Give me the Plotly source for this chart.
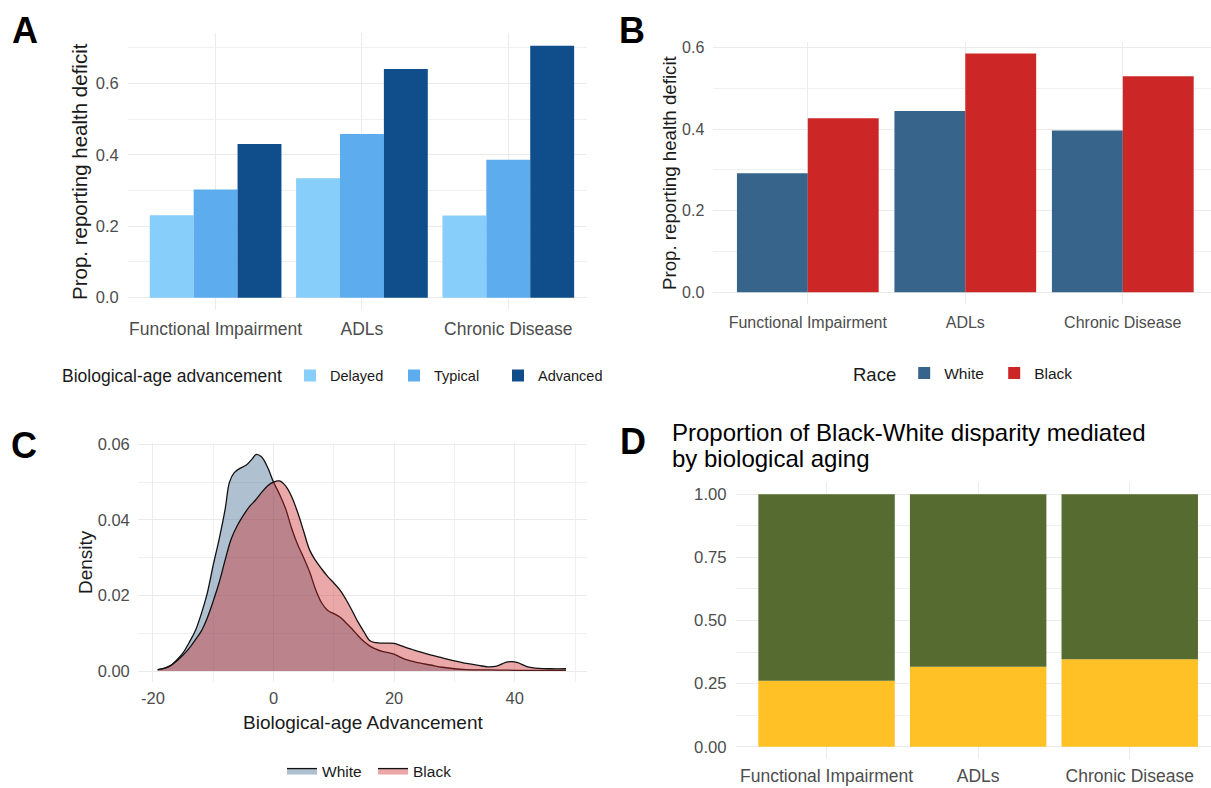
import plotly.graph_objects as go

FIG_W = 1211
FIG_H = 788
FONT = "Liberation Sans, Arial, sans-serif"

CATEGORIES = ["Functional Impairment", "ADLs", "Chronic Disease"]

# 图A：按生物年龄进展分组
BIO_AGE_GROUPS = ["Delayed", "Typical", "Advanced"]
DELAYED = [0.231, 0.334, 0.230]
TYPICAL = [0.303, 0.458, 0.386]
ADVANCED = [0.430, 0.640, 0.705]

# 图B：按种族分组
RACE_GROUPS = ["White", "Black"]
WHITE_PROP = [0.292, 0.445, 0.397]
BLACK_PROP = [0.427, 0.586, 0.530]

# 图C：生物年龄进展的密度曲线
WHITE_X = [-19.2, -18, -17, -16, -15, -14, -13, -12, -11, -10, -9, -8, -7.3, -6.5,
           -5.5, -4.5, -3.5, -2.9, -2, -1, 0, 1, 2, 3, 4, 5, 6, 7, 8, 9, 10, 11, 12,
           13, 14, 15, 16, 17, 18, 19, 20, 21, 22, 24, 26, 28, 30, 32, 36, 40, 44, 48.5]
WHITE_DENSITY = [0.0004, 0.0008, 0.0015, 0.0030, 0.0048, 0.0075, 0.0105, 0.0150, 0.0205,
                 0.0280, 0.0350, 0.0430, 0.0500, 0.0525, 0.0537, 0.0545, 0.0562, 0.0573,
                 0.0567, 0.0540, 0.0500, 0.0468, 0.0430, 0.0378, 0.0335, 0.0300, 0.0262,
                 0.0215, 0.0180, 0.0160, 0.0152, 0.0143, 0.0128, 0.0112, 0.0094, 0.0078,
                 0.0066, 0.0058, 0.0052, 0.0049, 0.0045, 0.0037, 0.0030, 0.0022, 0.0016,
                 0.0010, 0.0006, 0.0004, 0.0003, 0.0002, 0.0002, 0.0002]
BLACK_X = [-19.2, -18, -17, -16, -15, -14, -13, -12, -11, -10, -9, -8, -7, -6, -5, -4,
           -3, -2, -1, 0, 1, 2, 3, 4, 5, 6, 7, 8, 9, 10, 11, 12, 13, 14, 15, 16, 17, 18,
           19, 20, 21, 22, 23, 24, 26, 28, 30, 32, 34, 35.5, 37, 38.5, 39.5, 40.5, 42,
           44, 46, 48.5]
BLACK_DENSITY = [0.0004, 0.0008, 0.0015, 0.0027, 0.0042, 0.0060, 0.0082, 0.0105, 0.0140,
                 0.0185, 0.0235, 0.0295, 0.0350, 0.0385, 0.0412, 0.0435, 0.0452, 0.0472,
                 0.0490, 0.0500, 0.0503, 0.0490, 0.0462, 0.0420, 0.0370, 0.0320, 0.0292,
                 0.0270, 0.0250, 0.0233, 0.0215, 0.0190, 0.0161, 0.0130, 0.0104, 0.0080,
                 0.0075, 0.0074, 0.0074, 0.0073, 0.0068, 0.0062, 0.0057, 0.0052, 0.0043,
                 0.0035, 0.0027, 0.0020, 0.0015, 0.0011, 0.0013, 0.0023, 0.0025, 0.0022,
                 0.0012, 0.0007, 0.0006, 0.0006]
C_TICKS = [-20, 0, 20, 40]
C_TICK_LABELS = ["-20", "0", "20", "40"]

# 图D：被生物衰老中介的差异比例
MEDIATED = [0.261, 0.317, 0.346]
TOTAL = [1.0, 1.0, 1.0]


def _xdom(left_px, right_px):
    """像素横坐标转为画布比例。"""
    return [left_px / FIG_W, min(right_px / FIG_W, 1.0)]


def _ydom(top_px, bottom_px):
    """像素纵坐标转为画布比例。"""
    return [1 - bottom_px / FIG_H, 1 - top_px / FIG_H]


def _axis(size, domain, rng, **extra):
    """ggplot theme_minimal 风格的坐标轴。"""
    axis = {
        "domain": domain,
        "range": rng,
        "automargin": False,
        "showgrid": True,
        "gridcolor": "#EBEBEB",
        "gridwidth": 1.2,
        "zeroline": False,
        "showline": False,
        "ticks": "",
        "fixedrange": True,
        "ticklabelstandoff": 8,
        "tickfont": {"family": FONT, "size": size, "color": "#4D4D4D"},
    }
    axis.update(extra)
    return axis


def _minor(dtick, tick0):
    return {"dtick": dtick, "tick0": tick0, "showgrid": True,
            "gridcolor": "#F0F0F0", "gridwidth": 0.8, "ticks": ""}


def _text(text, x_px, y_px, size, angle=0, bold=False, color="#1A1A1A", xanchor="center"):
    return {
        "text": f"<b>{text}</b>" if bold else text,
        "x": x_px / FIG_W,
        "y": 1 - y_px / FIG_H,
        "xref": "paper",
        "yref": "paper",
        "xanchor": xanchor,
        "yanchor": "middle",
        "textangle": angle,
        "showarrow": False,
        "font": {"family": FONT, "size": size, "color": color},
    }


fig = go.Figure()

# 图A
for name, values, color in zip(BIO_AGE_GROUPS, [DELAYED, TYPICAL, ADVANCED],
                               ["#87CEFA", "#5CACEE", "#104E8B"]):
    fig.add_trace(go.Bar(x=CATEGORIES, y=values, name=name, xaxis="x", yaxis="y",
                         marker={"color": color, "line": {"width": 0}}, legend="legend"))

# 图B
for name, values, color in zip(RACE_GROUPS, [WHITE_PROP, BLACK_PROP], ["#36648B", "#CD2626"]):
    fig.add_trace(go.Bar(x=CATEGORIES, y=values, name=name, xaxis="x2", yaxis="y2",
                         marker={"color": color, "line": {"width": 0}}, legend="legend2"))

# 图C
fig.add_trace(go.Scatter(x=WHITE_X, y=WHITE_DENSITY, name="White", mode="lines",
                         fill="tozeroy", fillcolor="rgba(54, 100, 139, 0.4)",
                         line={"color": "#111111", "width": 1.3, "shape": "spline"},
                         xaxis="x3", yaxis="y3", legend="legend3"))
fig.add_trace(go.Scatter(x=BLACK_X, y=BLACK_DENSITY, name="Black", mode="lines",
                         fill="tozeroy", fillcolor="rgba(205, 38, 38, 0.4)",
                         line={"color": "#111111", "width": 1.3, "shape": "spline"},
                         xaxis="x3", yaxis="y3", legend="legend3"))

# 图D
fig.add_trace(go.Bar(x=CATEGORIES, y=MEDIATED, name="Mediated", xaxis="x4", yaxis="y4",
                     offsetgroup="d", marker={"color": "#FFC125", "line": {"width": 0}},
                     showlegend=False))
fig.add_trace(go.Bar(x=CATEGORIES, y=[t - m for t, m in zip(TOTAL, MEDIATED)], base=MEDIATED,
                     name="Not mediated", xaxis="x4", yaxis="y4", offsetgroup="d",
                     marker={"color": "#556B2F", "line": {"width": 0}}, showlegend=False))

annotations = [
    _text("A", 25, 30, 36, bold=True, color="#000000"),
    _text("B", 632, 31, 36, bold=True, color="#000000"),
    _text("C", 24, 445, 36, bold=True, color="#000000"),
    _text("D", 633, 442, 36, bold=True, color="#000000"),
    _text("Prop. reporting health deficit", 79, 172, 20.5, angle=-90),
    _text("Prop. reporting health deficit", 669, 173, 18.7, angle=-90),
    _text("Density", 85, 562, 19, angle=-90),
    _text("Biological-age Advancement", 363, 722, 19),
    _text("Proportion of Black-White disparity mediated", 670, 432, 24, xanchor="left", color="#000000"),
    _text("by biological aging", 670, 458, 24, xanchor="left", color="#000000"),
]

legend_common = {
    "orientation": "h",
    "xanchor": "left",
    "yanchor": "middle",
    "bgcolor": "rgba(0,0,0,0)",
    "entrywidthmode": "pixels",
    "font": {"family": FONT, "size": 14.5, "color": "#1A1A1A"},
}

fig.update_layout(
    width=FIG_W,
    height=FIG_H,
    margin={"l": 0, "r": 0, "t": 0, "b": 0},
    paper_bgcolor="#FFFFFF",
    plot_bgcolor="#FFFFFF",
    template="plotly_white",
    barmode="group",
    bargap=0.1,
    bargroupgap=0,
    font={"family": FONT, "color": "#1A1A1A"},
    xaxis=_axis(17.5, _xdom(127.8, 587.3), [-0.6, 2.54], type="category", anchor="y",
                ticklabelstandoff=6),
    yaxis=_axis(16.5, _ydom(33.3, 310.2), [-0.035, 0.74], anchor="x",
                tickvals=[0, 0.2, 0.4, 0.6], ticktext=["0.0", "0.2", "0.4", "0.6"],
                minor=_minor(0.1, 0)),
    xaxis2=_axis(16, _xdom(713.3, 1211), [-0.6, 2.56], type="category", anchor="y2",
                 ticklabelstandoff=7),
    yaxis2=_axis(16, _ydom(41.9, 304.2), [-0.0293, 0.6143], anchor="x2",
                 tickvals=[0, 0.2, 0.4, 0.6], ticktext=["0.0", "0.2", "0.4", "0.6"],
                 minor=_minor(0.1, 0)),
    xaxis3=_axis(16.5, _xdom(137.8, 586.5), [-22.5, 51.9], anchor="y3",
                 tickvals=C_TICKS, ticktext=C_TICK_LABELS, minor=_minor(10, -10),
                 ticklabelstandoff=4),
    yaxis3=_axis(16.5, _ydom(442.8, 682), [-0.0029, 0.0604], anchor="x3",
                 tickvals=[0, 0.02, 0.04, 0.06], ticktext=["0.00", "0.02", "0.04", "0.06"],
                 minor=_minor(0.01, 0), ticklabelstandoff=7),
    xaxis4=_axis(17.5, _xdom(735.6, 1211), [-0.6, 2.536], type="category", anchor="y4",
                 ticklabelstandoff=4),
    yaxis4=_axis(16.7, _ydom(481.7, 759.3), [-0.05, 1.05], anchor="x4",
                 tickvals=[0, 0.25, 0.5, 0.75, 1.0],
                 ticktext=["0.00", "0.25", "0.50", "0.75", "1.00"],
                 minor=_minor(0.125, 0)),
    legend={**legend_common, "x": 60 / FIG_W, "y": 1 - 376 / FIG_H, "entrywidth": 59,
            "title": {"text": "Biological-age advancement", "side": "left",
                      "font": {"family": FONT, "size": 17.5, "color": "#1A1A1A"}}},
    legend2={**legend_common, "x": 851 / FIG_W, "y": 1 - 374 / FIG_H, "entrywidth": 45,
             "font": {"family": FONT, "size": 15.5, "color": "#1A1A1A"},
             "title": {"text": "Race", "side": "left",
                       "font": {"family": FONT, "size": 18.5, "color": "#1A1A1A"}}},
    legend3={**legend_common, "x": 282 / FIG_W, "y": 1 - 771 / FIG_H, "entrywidth": 46,
             "font": {"family": FONT, "size": 15.5, "color": "#1A1A1A"}},
    annotations=annotations,
)

# 去掉页面默认的 8px 边距，让画布贴齐窗口左上角
fig.write_html("out.html", config={"displayModeBar": False},
               post_script="document.body.style.margin = '0px';")
